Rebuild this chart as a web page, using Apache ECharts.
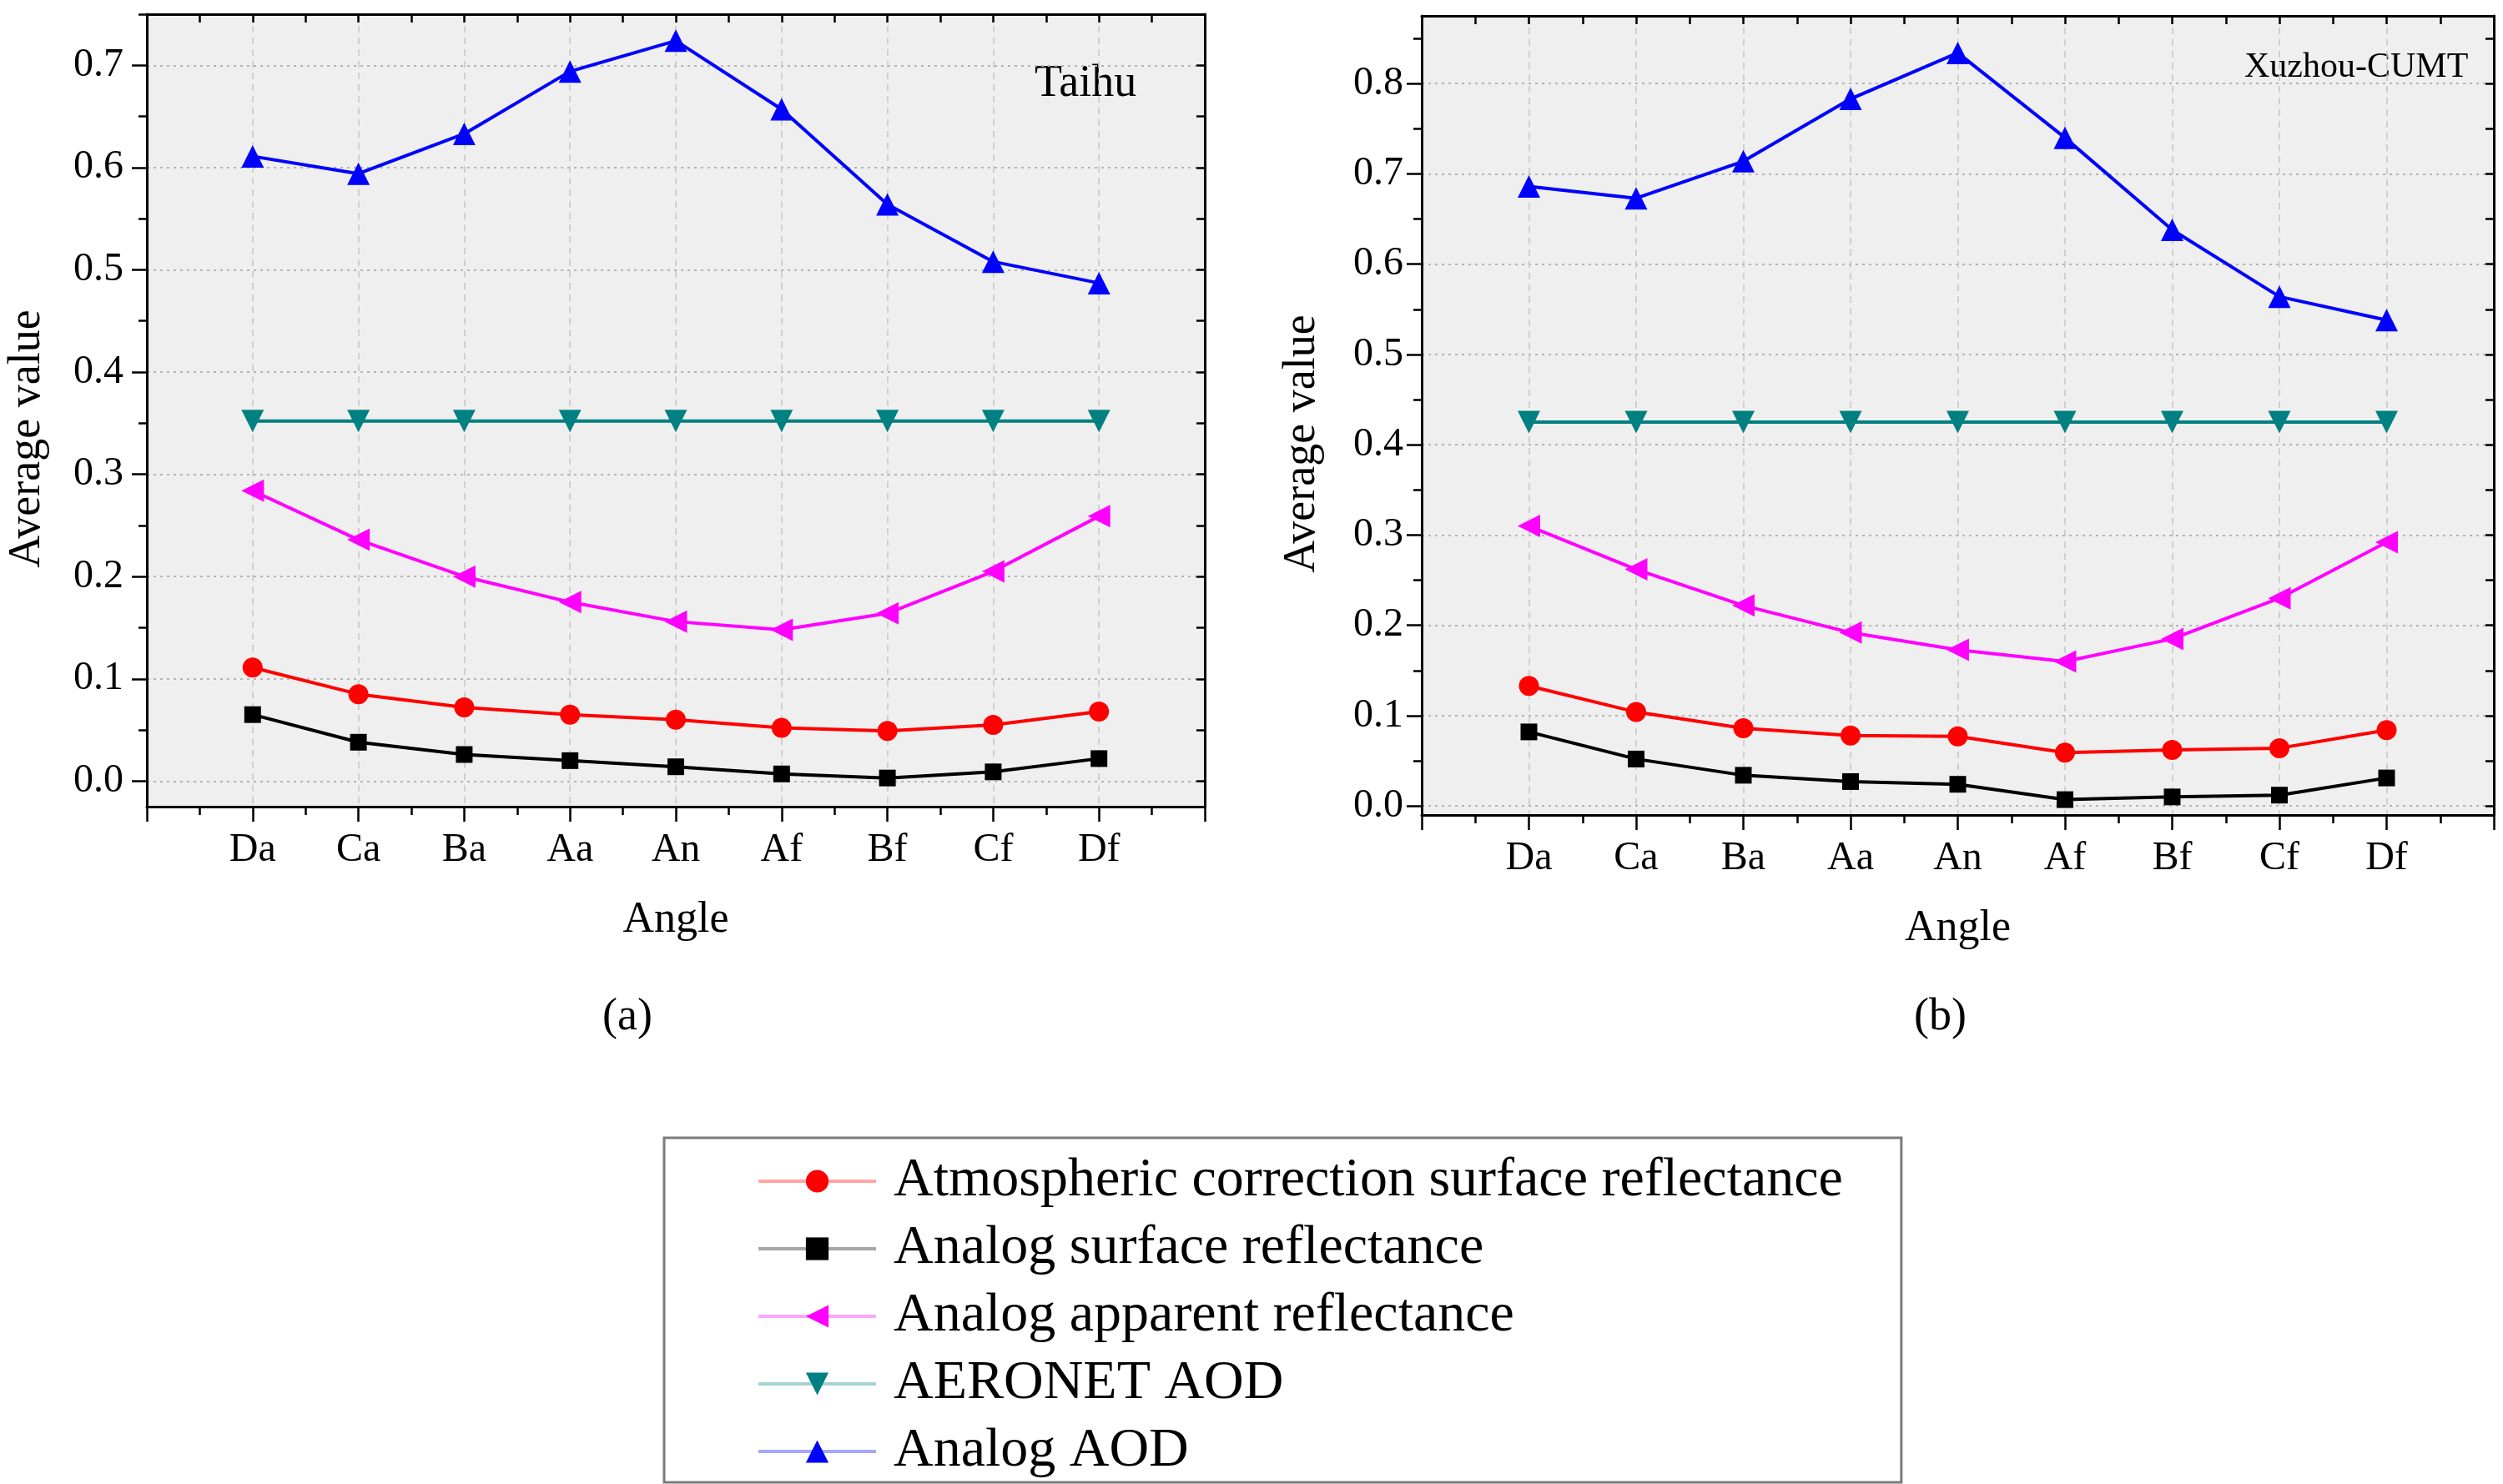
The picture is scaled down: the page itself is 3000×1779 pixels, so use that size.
<!DOCTYPE html>
<html>
<head>
<meta charset="utf-8">
<title>Average value by angle</title>
<script src="https://cdn.jsdelivr.net/npm/echarts@6/dist/echarts.min.js"></script>
<style>
  html, body { margin: 0; padding: 0; background: #fff; }
  #chart { width: 3000px; height: 1779px; }
</style>
</head>
<body>
<div id="chart"></div>
<script>
var angles = ['Da', 'Ca', 'Ba', 'Aa', 'An', 'Af', 'Bf', 'Cf', 'Df'];
var seriesNames = [
  'Atmospheric correction surface reflectance',
  'Analog surface reflectance',
  'Analog apparent reflectance',
  'AERONET AOD',
  'Analog AOD'
];

// (a) Taihu
var taihuAtmCorr   = [0.111, 0.085, 0.072, 0.065, 0.060, 0.052, 0.049, 0.055, 0.068];
var taihuSurface   = [0.065, 0.038, 0.026, 0.020, 0.014, 0.007, 0.003, 0.009, 0.022];
var taihuApparent  = [0.284, 0.236, 0.200, 0.175, 0.156, 0.148, 0.164, 0.205, 0.259];
var taihuAeronet   = [0.352, 0.352, 0.352, 0.352, 0.352, 0.352, 0.352, 0.352, 0.352];
var taihuAod       = [0.611, 0.594, 0.633, 0.694, 0.724, 0.657, 0.564, 0.508, 0.487];

// (b) Xuzhou-CUMT
var xuzhouAtmCorr  = [0.133, 0.104, 0.086, 0.078, 0.077, 0.059, 0.062, 0.064, 0.084];
var xuzhouSurface  = [0.082, 0.052, 0.034, 0.027, 0.024, 0.007, 0.010, 0.012, 0.031];
var xuzhouApparent = [0.310, 0.262, 0.222, 0.192, 0.173, 0.160, 0.185, 0.230, 0.292];
var xuzhouAeronet  = [0.425, 0.425, 0.425, 0.425, 0.425, 0.425, 0.425, 0.425, 0.425];
var xuzhouAod      = [0.686, 0.673, 0.714, 0.783, 0.834, 0.740, 0.638, 0.564, 0.538];

// tick labels
var yTicksA = [0, 0.1, 0.2, 0.3, 0.4, 0.5, 0.6, 0.7];
var yMinorA = [0.05, 0.15, 0.25, 0.35, 0.45, 0.55, 0.65, 0.75];
var yTicksB = [0, 0.1, 0.2, 0.3, 0.4, 0.5, 0.6, 0.7, 0.8];
var yMinorB = [0.05, 0.15, 0.25, 0.35, 0.45, 0.55, 0.65, 0.75, 0.85];

var serif = '"Times New Roman", "Liberation Serif", serif';
var black = '#000';

var styles = [
  { color: '#ff0000', symbol: 'circle', size: 24, rotate: 0 },
  { color: '#000000', symbol: 'rect', size: 20, rotate: 0 },
  { color: '#ff00ff', symbol: 'triangle', size: 27, rotate: 90 },
  { color: '#008080', symbol: 'triangle', size: 27, rotate: 180 },
  { color: '#0000ff', symbol: 'triangle', size: 27, rotate: 0 }
];

function xAxes(g) {
  return [{
    type: 'value', gridIndex: g, position: 'bottom', min: 0, max: 10, interval: 1,
    axisLine: { show: true, onZero: false, lineStyle: { color: black, width: 3 } },
    axisTick: { show: true, length: 18, lineStyle: { color: black, width: 2.5 } },
    minorTick: { show: true, splitNumber: 2, length: 10, lineStyle: { color: black, width: 2.5 } },
    axisLabel: {
      margin: 28, color: black, fontFamily: serif, fontSize: 48,
      formatter: function (v) { return angles[v - 1] || ''; }
    },
    splitLine: { show: true, lineStyle: { color: '#c6c6c6', type: [8, 6], width: 1.5 } },
    name: 'Angle', nameLocation: 'middle', nameGap: 110,
    nameTextStyle: { color: black, fontFamily: serif, fontSize: 52 }
  }, {
    type: 'value', gridIndex: g, position: 'top', min: 0, max: 10, interval: 1,
    axisLine: { show: true, onZero: false, lineStyle: { color: black, width: 3 } },
    axisTick: { show: true, inside: true, length: 10, lineStyle: { color: black, width: 2.5 } },
    minorTick: { show: true, splitNumber: 2, length: 10, lineStyle: { color: black, width: 2.5 } },
    axisLabel: { show: false },
    splitLine: { show: false }
  }];
}

function yAxes(g, min, max, major, minor, labelMargin) {
  return [{
    type: 'value', gridIndex: g, position: 'left', min: min, max: max, splitNumber: 8,
    axisLine: { show: true, onZero: false, lineStyle: { color: black, width: 3 } },
    axisTick: { show: true, length: 18, customValues: major, lineStyle: { color: black, width: 2.5 } },
    axisLabel: {
      customValues: major, margin: labelMargin, color: black, fontFamily: serif, fontSize: 48,
      formatter: function (v) { return v.toFixed(1); }
    },
    splitLine: { show: true, lineStyle: { color: '#b4b4b4', type: [3, 5], width: 2 } },
    name: 'Average value', nameLocation: 'middle', nameGap: 116, nameRotate: 90,
    nameTextStyle: { color: black, fontFamily: serif, fontSize: 54, padding: [0, 68, 0, 0] }
  }, {
    type: 'value', gridIndex: g, position: 'left', min: min, max: max, splitNumber: 8,
    axisLine: { show: false },
    axisTick: { show: true, length: 10, customValues: minor, lineStyle: { color: black, width: 2.5 } },
    axisLabel: { show: false },
    splitLine: { show: false }
  }, {
    type: 'value', gridIndex: g, position: 'right', min: min, max: max, splitNumber: 8,
    axisLine: { show: true, onZero: false, lineStyle: { color: black, width: 3 } },
    axisTick: { show: true, inside: true, length: 10, customValues: major.concat(minor), lineStyle: { color: black, width: 2.5 } },
    axisLabel: { show: false },
    splitLine: { show: false }
  }];
}

function panelSeries(g, lists) {
  return lists.map(function (vals, k) {
    var s = styles[k];
    return {
      name: seriesNames[k], type: 'line', xAxisIndex: g * 2, yAxisIndex: g * 3,
      data: vals.map(function (v, i) { return [i + 1, v]; }),
      symbol: s.symbol, symbolSize: s.size, symbolRotate: s.rotate,
      lineStyle: { color: s.color, width: 4 },
      itemStyle: { color: s.color },
      z: 3 + k
    };
  });
}

var chart = echarts.init(document.getElementById('chart'), null, { renderer: 'canvas' });
chart.setOption({
  animation: false,
  backgroundColor: '#fff',
  grid: [
    { left: 176, top: 17, width: 1268, height: 950, show: true, backgroundColor: '#efefef', borderWidth: 0, outerBoundsMode: 'none' },
    { left: 1704, top: 19, width: 1285, height: 958, show: true, backgroundColor: '#efefef', borderWidth: 0, outerBoundsMode: 'none' }
  ],
  xAxis: xAxes(0).concat(xAxes(1)),
  yAxis: yAxes(0, -0.025, 0.75, yTicksA, yMinorA, 28).concat(yAxes(1, -0.01, 0.875, yTicksB, yMinorB, 22)),
  legend: {
    orient: 'vertical', left: 796, top: 1364,
    padding: [19, 70, 4, 111],
    borderColor: '#7a7a7a', borderWidth: 3, backgroundColor: '#fff', borderRadius: 0,
    itemWidth: 141, itemHeight: 34, itemGap: 15,
    lineStyle: { width: 4, opacity: 0.35 },
    textStyle: { color: black, fontFamily: serif, fontSize: 66, padding: [0, 0, 0, 16] },
    data: seriesNames
  },
  graphic: [
    { type: 'text', left: 1240, top: 74, style: { text: 'Taihu', fill: black, font: '54px ' + serif } },
    { type: 'text', left: 2690, top: 60, style: { text: 'Xuzhou-CUMT', fill: black, font: '42px ' + serif } },
    { type: 'text', left: 722, top: 1193, style: { text: '(a)', fill: black, font: '54px ' + serif } },
    { type: 'text', left: 2294, top: 1193, style: { text: '(b)', fill: black, font: '54px ' + serif } }
  ],
  series: panelSeries(0, [taihuAtmCorr, taihuSurface, taihuApparent, taihuAeronet, taihuAod])
    .concat(panelSeries(1, [xuzhouAtmCorr, xuzhouSurface, xuzhouApparent, xuzhouAeronet, xuzhouAod]))
});
window.addEventListener('resize', function () { chart.resize(); });
</script>
</body>
</html>
